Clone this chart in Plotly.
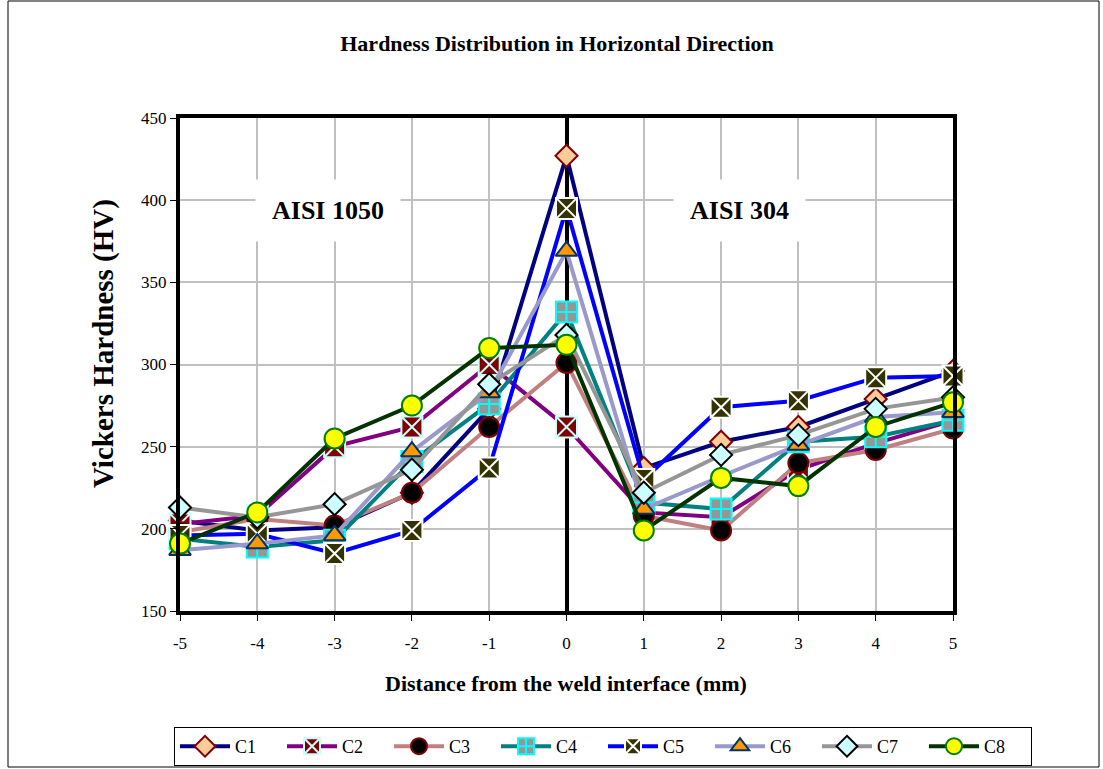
import plotly.graph_objects as go

# Distance from the weld interface (mm)
distance = [-5, -4, -3, -2, -1, 0, 1, 2, 3, 4, 5]
distance_labels = ["-5", "-4", "-3", "-2", "-1", "0", "1", "2", "3", "4", "5"]
hardness_ticks = [150, 200, 250, 300, 350, 400, 450]

# Vickers hardness (HV) per specimen
c1 = [205, 199, 201, 222, 273, 427, 237, 253, 262, 279, 296]
c2 = [203, 208, 250, 262, 300, 262, 210, 207, 236, 252, 266]
c3 = [198, 206, 202, 222, 262, 301, 208, 199, 240, 248, 261]
c4 = [194, 189, 193, 241, 276, 332, 216, 212, 253, 256, 266]
c5 = [196, 197, 185, 199, 237, 395, 230, 274, 278, 292, 293]
c6 = [187, 191, 196, 247, 283, 369, 212, 232, 251, 268, 271]
c7 = [213, 207, 215, 236, 288, 318, 222, 245, 257, 273, 280]
c8 = [191, 210, 255, 275, 310, 312, 199, 231, 226, 262, 277]

names = ["C1", "C2", "C3", "C4", "C5", "C6", "C7", "C8"]
values = [c1, c2, c3, c4, c5, c6, c7, c8]

# line colour, marker symbol, marker size, marker fill, marker outline
styles = [
    ("#000080", "diamond", 17, "#FFCC99", "#800000"),
    ("#800080", "square-x", 21, "#800000", "#CCFFFF"),
    ("#C08080", "circle", 20, "#000000", "#800000"),
    ("#008080", "square-cross", 21, "#969696", "#00FFFF"),
    ("#0000FF", "square-x", 21, "#333300", "#FFFFFF"),
    ("#9999CC", "triangle-up", 19, "#FF9900", "#003366"),
    ("#969696", "diamond", 17, "#CCFFFF", "#000000"),
    ("#003300", "circle", 20, "#FFFF00", "#008000"),
]

serif = "Liberation Serif"

fig = go.Figure()
for name, ys, (lc, sym, size, fill, edge) in zip(names, values, styles):
    fig.add_trace(go.Scatter(
        x=distance, y=ys, name=name, mode="lines+markers",
        line=dict(color=lc, width=4), cliponaxis=False,
        marker=dict(symbol=sym, size=size, color=fill,
                    line=dict(color=edge, width=2)),
    ))

fig.update_layout(
    width=1103, height=769,
    margin=dict(l=180, r=150, t=118, b=158, autoexpand=False),
    paper_bgcolor="white", plot_bgcolor="white",
    font=dict(family=serif, color="black", size=16),
    title=dict(text="<b>Hardness Distribution in Horizontal Direction</b>",
               x=557 / 1103, xanchor="center", y=1 - 43 / 769, yanchor="middle",
               font=dict(family=serif, size=22)),
    xaxis=dict(
        range=[-5, 5], tickmode="array", tickvals=distance,
        ticktext=distance_labels,
        ticks="outside", ticklen=6, tickwidth=1, tickcolor="black",
        ticklabelstandoff=8,
        showgrid=True, gridcolor="#C0C0C0", gridwidth=2,
        showline=True, linecolor="black", linewidth=4, mirror=True,
        zeroline=True, zerolinecolor="black", zerolinewidth=4,
        tickfont=dict(family=serif, size=17), automargin=False,
    ),
    yaxis=dict(
        range=[150, 450], tickmode="array", tickvals=hardness_ticks,
        ticks="outside", ticklen=6, tickwidth=1, tickcolor="black",
        showgrid=True, gridcolor="#C0C0C0", gridwidth=2,
        showline=True, linecolor="black", linewidth=4, mirror=True,
        zeroline=False, tickfont=dict(family=serif, size=17),
        automargin=False,
    ),
    showlegend=True,
    legend=dict(
        orientation="h",
        x=(174 - 180) / 773, xanchor="left",
        y=(611 - 727) / 493, yanchor="top",
        bordercolor="black", borderwidth=1, bgcolor="white",
        font=dict(family=serif, size=18),
        itemwidth=50, entrywidth=42, traceorder="normal",
    ),
)

# Axis titles
fig.add_annotation(text="<b>Distance from the weld interface (mm)</b>",
                   xref="paper", yref="paper", x=(566 - 180) / 773,
                   y=(611 - 683) / 493,
                   showarrow=False, font=dict(family=serif, size=22),
                   xanchor="center", yanchor="middle")
fig.add_annotation(text="<b>Vickers Hardness (HV)</b>",
                   xref="paper", yref="paper", x=(103 - 180) / 773,
                   y=(611 - 344) / 493,
                   textangle=-90, showarrow=False,
                   font=dict(family=serif, size=29),
                   xanchor="center", yanchor="middle")

# Material labels on each side of the interface
fig.add_annotation(text="<b>AISI 1050</b>", x=-3.08, y=394, showarrow=False,
                   font=dict(family=serif, size=26), bgcolor="white",
                   borderpad=16)
fig.add_annotation(text="<b>AISI 304</b>", x=2.24, y=394, showarrow=False,
                   font=dict(family=serif, size=26), bgcolor="white",
                   borderpad=16)

# Outer chart frame
fig.add_shape(type="rect", xref="paper", yref="paper",
              x0=(8 - 180) / 773, x1=(1099 - 180) / 773,
              y0=(611 - 767) / 493, y1=(611 - 1) / 493,
              line=dict(color="black", width=1), layer="below")

fig.write_html("out.html")
